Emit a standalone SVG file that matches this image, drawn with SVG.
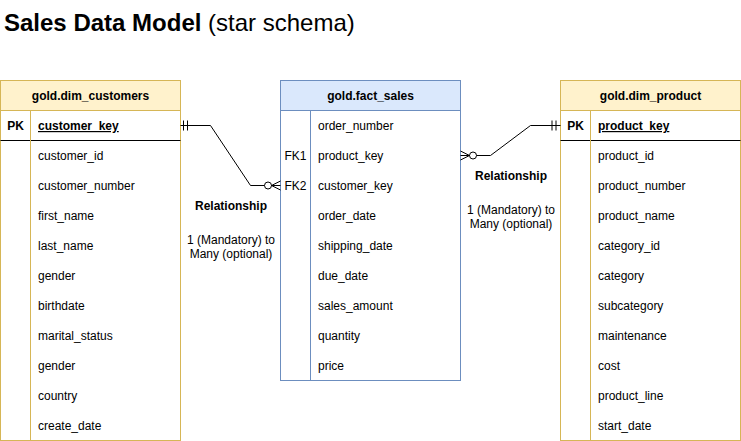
<svg xmlns="http://www.w3.org/2000/svg" width="741" height="441" viewBox="0 0 741 441">
<style>
text{font-family:"Liberation Sans",Arial,Helvetica,sans-serif;font-size:12px;fill:#000}
.h{font-weight:bold;text-anchor:middle}
.k{font-weight:bold;text-decoration:underline}
.b{font-weight:bold}
.c{text-anchor:middle}
.dim{fill:#fff2cc;stroke:#d6b656}
.dimb{fill:#ffffff;stroke:#d6b656}
.fact{fill:#dae8fc;stroke:#6c8ebf}
.factb{fill:#ffffff;stroke:#6c8ebf}
.ln{fill:none;stroke:#000;stroke-width:1}
</style>
<text x="4" y="31" style="font-size:24px"><tspan font-weight="bold">Sales Data Model</tspan> (star schema)</text>

<g id="dim_customers">
<rect class="dimb" x="0.5" y="80.5" width="180" height="360"/>
<rect class="dim" x="0.5" y="80.5" width="180" height="30"/>
<line x1="0.5" y1="140.5" x2="180.5" y2="140.5" stroke="#000"/>
<line x1="30.5" y1="110.5" x2="30.5" y2="440.5" stroke="#d6b656"/>
<text class="h" x="90.5" y="100">gold.dim_customers</text>
<text class="b c" x="15.5" y="130">PK</text>
<text class="k" x="38" y="130">customer_key</text>
<text x="38" y="160">customer_id</text>
<text x="38" y="190">customer_number</text>
<text x="38" y="220">first_name</text>
<text x="38" y="250">last_name</text>
<text x="38" y="280">gender</text>
<text x="38" y="310">birthdate</text>
<text x="38" y="340">marital_status</text>
<text x="38" y="370">gender</text>
<text x="38" y="400">country</text>
<text x="38" y="430">create_date</text>
</g>

<g id="fact_sales">
<rect class="factb" x="280.5" y="80.5" width="180" height="300"/>
<rect class="fact" x="280.5" y="80.5" width="180" height="30"/>
<line x1="310.5" y1="110.5" x2="310.5" y2="380.5" stroke="#6c8ebf"/>
<text class="h" x="370.5" y="100">gold.fact_sales</text>
<text x="318" y="130">order_number</text>
<text class="c" x="295.5" y="160">FK1</text>
<text x="318" y="160">product_key</text>
<text class="c" x="295.5" y="190">FK2</text>
<text x="318" y="190">customer_key</text>
<text x="318" y="220">order_date</text>
<text x="318" y="250">shipping_date</text>
<text x="318" y="280">due_date</text>
<text x="318" y="310">sales_amount</text>
<text x="318" y="340">quantity</text>
<text x="318" y="370">price</text>
</g>

<g id="dim_product">
<rect class="dimb" x="560.5" y="80.5" width="180" height="360"/>
<rect class="dim" x="560.5" y="80.5" width="180" height="30"/>
<line x1="560.5" y1="140.5" x2="740.5" y2="140.5" stroke="#000"/>
<line x1="590.5" y1="110.5" x2="590.5" y2="440.5" stroke="#d6b656"/>
<text class="h" x="650.5" y="100">gold.dim_product</text>
<text class="b c" x="575.5" y="130">PK</text>
<text class="k" x="598" y="130">product_key</text>
<text x="598" y="160">product_id</text>
<text x="598" y="190">product_number</text>
<text x="598" y="220">product_name</text>
<text x="598" y="250">category_id</text>
<text x="598" y="280">category</text>
<text x="598" y="310">subcategory</text>
<text x="598" y="340">maintenance</text>
<text x="598" y="370">cost</text>
<text x="598" y="400">product_line</text>
<text x="598" y="430">start_date</text>
</g>

<g id="connectors">
<g id="rel_customers">
<polyline class="ln" points="180.5,125.5 210.5,125.5 250.5,185.5 264.5,185.5"/>
<line class="ln" x1="183.5" y1="120.5" x2="183.5" y2="130.5"/>
<line class="ln" x1="187.5" y1="120.5" x2="187.5" y2="130.5"/>
<circle class="ln" cx="268" cy="185.5" r="3.5" fill="#fff"/>
<polyline class="ln" points="280.5,181 271.5,185.5 280.5,190"/>
<line class="ln" x1="271.5" y1="185.5" x2="280.5" y2="185.5"/>
</g>
<g id="rel_product">
<polyline class="ln" points="476.5,155.5 490.5,155.5 530.5,125.5 560.5,125.5"/>
<line class="ln" x1="552" y1="120.5" x2="552" y2="130.5"/>
<line class="ln" x1="556" y1="120.5" x2="556" y2="130.5"/>
<circle class="ln" cx="473" cy="155.5" r="3.5" fill="#fff"/>
<polyline class="ln" points="460.5,151 469.5,155.5 460.5,160"/>
<line class="ln" x1="460.5" y1="155.5" x2="469.5" y2="155.5"/>
</g>
</g>

<text class="b c" x="231" y="210">Relationship</text>
<text class="c" x="231" y="244">1 (Mandatory) to</text>
<text class="c" x="231" y="258">Many (optional)</text>
<text class="b c" x="511" y="180">Relationship</text>
<text class="c" x="511" y="214">1 (Mandatory) to</text>
<text class="c" x="511" y="228">Many (optional)</text>
</svg>
